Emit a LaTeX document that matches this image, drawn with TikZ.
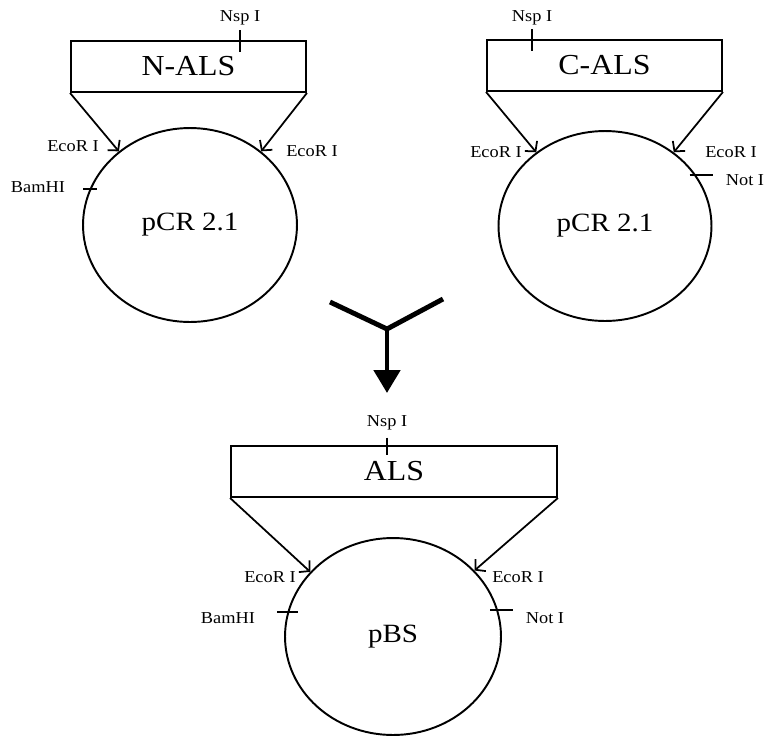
\documentclass[tikz,border=0pt]{standalone}
\usepackage{fontspec}
\setmainfont{Liberation Serif}[FakeStretch=1.1]
\usetikzlibrary{arrows.meta,positioning,shapes.geometric}

\begin{document}
\begin{tikzpicture}[x=0.02cm, y=-0.02cm, >={Straight Barb[length=4pt,width=9pt]},
  gene/.style={draw, line width=1.1pt, minimum height=1.02cm, inner sep=0pt,
    font=\fontsize{16.5}{18}\selectfont},
  plasmid/.style={draw, ellipse, line width=1.1pt, inner sep=0pt,
    font=\fontsize{15}{17}\selectfont},
  site/.style={inner sep=0pt, font=\fontsize{9.5}{11}\selectfont},
  cut/.style={line width=1pt},
  insert/.style={->, line width=1pt},
  merge/.style={line width=2.8pt}]
\useasboundingbox (0,0) rectangle (765,735);

% N-ALS in pCR 2.1
\node[gene, minimum width=4.7cm] (nals) at (188.5,66.5) {N-ALS};
\node[plasmid, minimum width=4.28cm, minimum height=3.88cm] (pcrN) at (190,225) {pCR 2.1};
\draw[insert] (nals.south west) -- (pcrN.134);
\draw[insert] (nals.south east) -- (pcrN.46);
\coordinate (nspN) at (240,41);
\draw[cut] (nspN) ++(0,-11) -- ++(0,22);
\node[site] (nspNlab) at (240,18) {Nsp I};
\node[site] (ecoNl) at (73,146) {EcoR I};
\node[site] (ecoNr) at (312,151) {EcoR I};
\coordinate (bamN) at (90,189);
\draw[cut] (bamN) ++(-7,0) -- ++(14,0);
\node[site] (bamNlab) at (38,187) {BamHI};

% C-ALS in pCR 2.1
\node[gene, minimum width=4.7cm] (cals) at (604.5,65.5) {C-ALS};
\node[plasmid, minimum width=4.26cm, minimum height=3.8cm] (pcrC) at (605,226) {pCR 2.1};
\draw[insert] (cals.south west) -- (pcrC.133);
\draw[insert] (cals.south east) -- (pcrC.47);
\coordinate (nspC) at (532,40);
\draw[cut] (nspC) ++(0,-11) -- ++(0,22);
\node[site] (nspClab) at (532,18) {Nsp I};
\node[site] (ecoCl) at (496,152) {EcoR I};
\node[site] (ecoCr) at (731,152) {EcoR I};
\coordinate (notC) at (701,175);
\draw[cut] (notC) ++(-11.5,0) -- ++(23,0);
\node[site] (notClab) at (745,180) {Not I};

% ligation
\coordinate (armL) at (330,302);
\coordinate (armR) at (443,299);
\coordinate (fork) at (387,329);
\coordinate (down) at (387,393);
\draw[merge] (armL) -- (fork) -- (armR);
\draw[merge, -{Triangle[length=0.46cm, width=0.52cm]}] (fork) -- (down);

% ALS in pBS
\node[gene, minimum width=6.52cm] (als) at (394,471.5) {ALS};
\node[plasmid, minimum width=4.32cm, minimum height=3.94cm] (pbs) at (393,636.5) {pBS};
\draw[insert] (als.south west) -- (pbs.142);
\draw[insert] (als.south east) -- (pbs.39);
\coordinate (nspA) at (387,446);
\draw[cut] (nspA) ++(0,-8.5) -- ++(0,17);
\node[site] (nspAlab) at (387,423) {Nsp I};
\node[site] (ecoAl) at (270,577) {EcoR I};
\node[site] (ecoAr) at (518,577) {EcoR I};
\coordinate (bamA) at (287.5,612);
\draw[cut] (bamA) ++(-10.5,0) -- ++(21,0);
\node[site] (bamAlab) at (228,618) {BamHI};
\coordinate (notA) at (501.5,610);
\draw[cut] (notA) ++(-11.5,0) -- ++(23,0);
\node[site] (notAlab) at (545,618) {Not I};
\end{tikzpicture}
\end{document}
